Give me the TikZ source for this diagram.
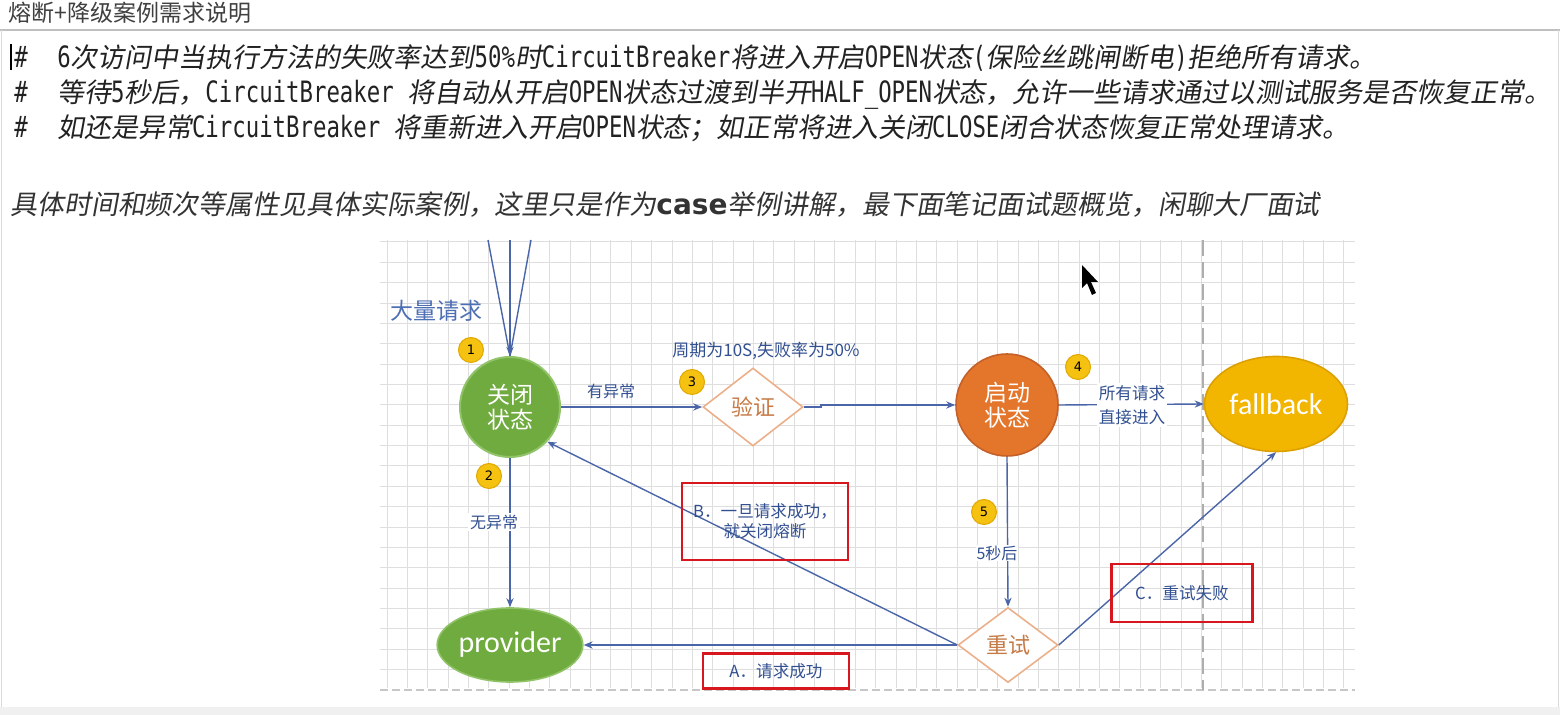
\documentclass[tikz,border=0pt]{standalone}
\usepackage{fontspec}
\usetikzlibrary{shapes.geometric,arrows.meta}
\newfontfamily\zh{Noto Sans CJK SC}
\newfontfamily\zhit[FakeSlant=0.18]{Noto Sans CJK SC}
\newfontfamily\enm[FakeStretch=0.76]{DejaVu Sans Mono}
\newfontfamily\calib{Carlito}
\newfontfamily\ensb{DejaVu Sans}
\newcommand\ZhT[1]{{\zhit\fontsize{13.46}{16}\selectfont #1}}
\newcommand\LatT[1]{{\enm\fontsize{14.7}{16}\selectfont #1}}
\definecolor{arrowc}{RGB}{74,102,168}
\definecolor{greenA}{RGB}{112,171,64}
\definecolor{greenB}{RGB}{145,195,105}
\definecolor{orangeA}{RGB}{228,118,44}
\definecolor{orangeB}{RGB}{196,96,40}
\definecolor{goldA}{RGB}{242,182,0}
\definecolor{goldB}{RGB}{220,160,0}
\definecolor{dborder}{RGB}{235,176,137}
\definecolor{dtext}{RGB}{199,122,69}
\definecolor{badgey}{RGB}{245,194,17}
\definecolor{badgeo}{RGB}{224,168,0}
\definecolor{lblc}{RGB}{50,80,145}
\definecolor{lblc2}{RGB}{77,111,181}
\definecolor{redc}{RGB}{215,22,30}
\definecolor{gridc}{RGB}{222,222,222}
\definecolor{txtc}{RGB}{34,34,34}
\tikzset{
  flow/.style={draw=arrowc, line width=0.7pt, -{Stealth[length=4.5pt,width=3.6pt]}},
  flowline/.style={draw=arrowc, line width=0.7pt},
  closedst/.style={circle, fill=greenA, draw=greenB, line width=1pt, minimum size=50pt, inner sep=0pt, text=white, align=center, font=\zh\fontsize{11.5}{12.5}\selectfont},
  openst/.style={circle, fill=orangeA, draw=orangeB, line width=0.8pt, minimum size=51pt, inner sep=0pt, text=white, align=center, font=\zh\fontsize{11.5}{12.5}\selectfont},
  fallbackst/.style={ellipse, fill=goldA, draw=goldB, line width=0.8pt, minimum width=71.5pt, minimum height=47.5pt, inner sep=0pt, text=white, font=\calib\fontsize{15}{15}\selectfont},
  providerst/.style={ellipse, fill=greenA, draw=greenB, line width=0.8pt, minimum width=71pt, minimum height=37pt, inner sep=0pt, text=white, font=\calib\fontsize{15}{15}\selectfont},
  decst/.style={diamond, draw=dborder, fill=white, line width=0.8pt, minimum width=50pt, minimum height=39pt, inner sep=0pt, text=dtext, font=\zh\fontsize{11}{12}\selectfont},
  badge/.style={circle, fill=badgey, draw=badgeo, line width=0.5pt, minimum size=12.5pt, inner sep=0pt, text=black, font=\ensb\fontsize{6.5}{7}\selectfont},
  lbl/.style={text=lblc, font=\zh\fontsize{8}{12}\selectfont, inner sep=1pt},
  redbox/.style={draw=redc, line width=1.2pt, inner sep=0pt, text=lblc, align=center, font=\zh\fontsize{8.3}{10}\selectfont},
  topline/.style={anchor=base west, inner sep=0pt, text=txtc},
}
\begin{document}
\begin{tikzpicture}[x=0.5pt,y=-0.5pt]
\useasboundingbox (0,0) rectangle (1560,715);
\fill[white] (0,0) rectangle (1560,715);
% page chrome
\fill[black!6] (0,707) rectangle (1560,715);
\draw[black!25, line width=1pt] (0,30) -- (1560,30);
\draw[black!15, line width=0.5pt] (1.5,30) -- (1.5,707);
\draw[black!15, line width=0.5pt] (1558.5,30) -- (1558.5,707);
\node[anchor=base west, inner sep=0pt, text=black!75, font=\zh\fontsize{11.5}{13}\selectfont] (title) at (8,22) {熔断+降级案例需求说明};
% text cursor
\fill[black] (9.5,44) rectangle (11.5,70);
% lines of text
\node[topline] (h1) at (14,68) {\LatT{\#}};
\node[topline] (h2) at (14,103) {\LatT{\#}};
\node[topline] (h3) at (14,138) {\LatT{\#}};
\node[topline] (l1) at (57,68) {\LatT{6}\ZhT{次访问中当执行方法的失败率达到}\LatT{50\%}\ZhT{时}\LatT{CircuitBreaker}\ZhT{将进入开启}\LatT{OPEN}\ZhT{状态}\LatT{(}\ZhT{保险丝跳闸断电}\LatT{)}\ZhT{拒绝所有请求。}};
\node[topline] (l2) at (57,103) {\ZhT{等待}\LatT{5}\ZhT{秒后，}\LatT{CircuitBreaker }\ZhT{将自动从开启}\LatT{OPEN}\ZhT{状态过渡到半开}\LatT{HALF\_OPEN}\ZhT{状态，允许一些请求通过以测试服务是否恢复正常。}};
\node[topline] (l3) at (57,138) {\ZhT{如还是异常}\LatT{CircuitBreaker }\ZhT{将重新进入开启}\LatT{OPEN}\ZhT{状态；如正常将进入关闭}\LatT{CLOSE}\ZhT{闭合状态恢复正常处理请求。}};
\node[topline, text=black!80] (l4) at (10,215) {\ZhT{具体时间和频次等属性见具体实际案例，这里只是作为}{\ensb\bfseries\fontsize{14}{16}\selectfont case}\ZhT{举例讲解，最下面笔记面试题概览，闲聊大厂面试}};
% grid
\foreach \k in {0,...,47} \draw[gridc, line width=0.5pt] ({387+20.36*\k},240) -- ({387+20.36*\k},688);
\foreach \k in {0,...,21} \draw[gridc, line width=0.5pt] (380,{242+20.36*\k}) -- (1355,{242+20.36*\k});
\draw[black!22, line width=0.6pt, dash pattern=on 4pt off 2pt] (380,690) -- (1355,690);
\draw[black!32, line width=0.8pt, dash pattern=on 8pt off 3pt] (1203,240) -- (1203,690);
% nodes
\node[closedst] (closed) at (510,407) {关闭\\状态};
\node[decst] (verify) at (753,407) {验证};
\node[openst] (open) at (1007,405) {启动\\状态};
\node[fallbackst] (fallback) at (1276,404) {fallback};
\node[providerst] (provider) at (510,645) {provider};
\node[decst, minimum height=37.5pt] (retry) at (1008,645) {重试};
\node[badge] (b1) at (471,350) {1};
\node[badge] (b2) at (489,476) {2};
\node[badge] (b3) at (692,382) {3};
\node[badge] (b4) at (1078,367) {4};
\node[badge] (b5) at (984,512) {5};
\node[text=lblc2, font=\zh\fontsize{11.5}{12}\selectfont] (many) at (436,311) {大量请求};
% connectors
\coordinate (in1) at (488,240);
\coordinate (in2) at (510,240);
\coordinate (in3) at (531,240);
\draw[flowline] (in1) -- (closed.north);
\draw[flowline] (in3) -- (closed.north);
\draw[flow] (in2) -- (closed.north);
\draw[flow] (closed.east) -- (verify.west);
\draw[flow] (verify.east) -- ++(17,0) |- (open.west);
\draw[flow] (open.east) -- (fallback.west);
\draw[flow] (closed.south) -- (provider.north);
\draw[flow] (open.south) -- (retry.north);
\draw[flow] (retry.west) -- (provider.east);
\draw[flow] (retry.west) -- (closed.-43);
\draw[flow] (retry.east) -- (fallback.south);
% labels
\node[lbl] (lyc) at (611,391) {有异常};
\node[lbl, font=\zh\fontsize{8.5}{10}\selectfont] (lcyc) at (766,351) {周期为10S,失败率为50\%};
\node[lbl, fill=white, align=center, font=\zh\fontsize{8.3}{12}\selectfont] (lall) at (1132,405) {所有请求\\直接进入};
\node[lbl, fill=white] (lwyc) at (494,522) {无异常};
\node[lbl, fill=white, inner sep=0.5pt] (l5s) at (997,553) {5秒后};
% red boxes
\node[redbox, minimum width=83pt, minimum height=38.5pt] (bbox) at (765,521.5) {B．一旦请求成功，\\就关闭熔断};
\node[redbox, minimum width=73pt, minimum height=17.5pt] (abox) at (776,671) {A．请求成功};
\node[redbox, minimum width=70.5pt, minimum height=29pt] (cbox) at (1182,593) {C．重试失败};
% mouse pointer
\fill[black] (1082,265) -- (1082,288) -- (1087,283) -- (1092,295) -- (1096,293) -- (1091,282) -- (1098,282) -- cycle;
\end{tikzpicture}
\end{document}
